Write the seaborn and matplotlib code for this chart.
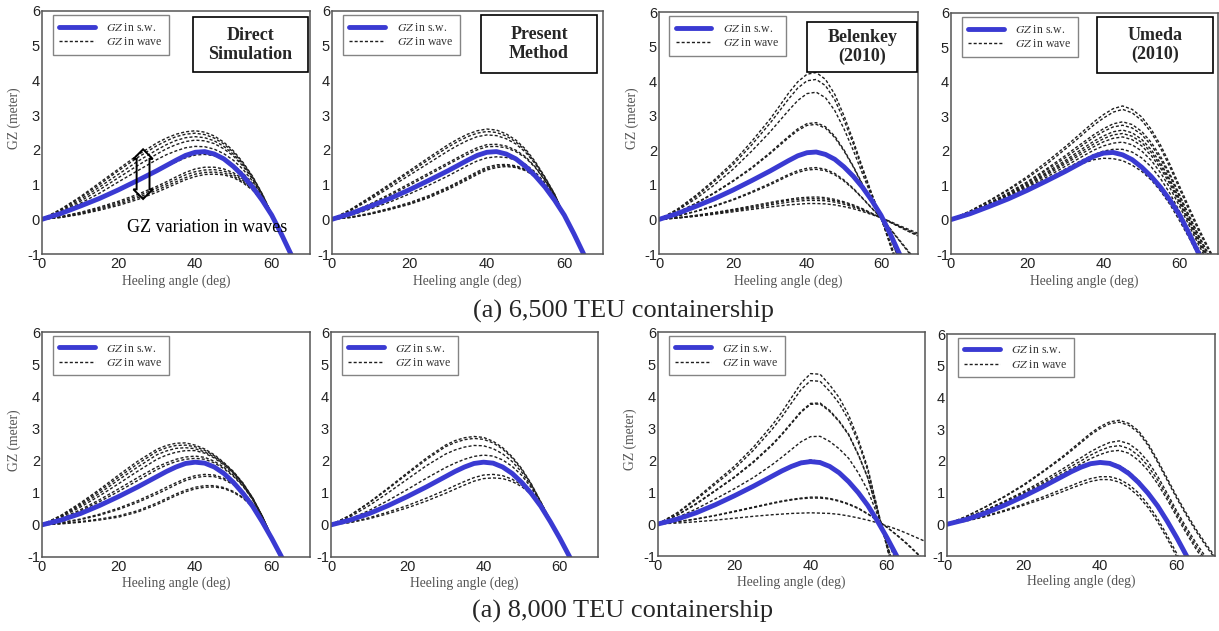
import numpy as np
import pandas as pd
import matplotlib
matplotlib.use("Agg")
import matplotlib.pyplot as plt
import seaborn as sns
from matplotlib.patches import Rectangle
from matplotlib.lines import Line2D
from matplotlib.ticker import MultipleLocator

# ---------------- data ----------------
ANGLES = [0, 5, 10, 15, 20, 25, 30, 32.5, 35, 37.5, 40, 42.5, 45, 47.5, 50,
          52.5, 55, 57.5, 60, 62.5, 65, 67.5, 70]

SW_6500 = [0.00, 0.17, 0.38, 0.60, 0.85, 1.12, 1.40, 1.55, 1.70, 1.84, 1.93, 1.95, 1.88, 1.74,
           1.52, 1.25, 0.93, 0.55, 0.12, -0.42, -1.00, -1.60, -2.20]
SW_8000 = [0.00, 0.15, 0.35, 0.60, 0.88, 1.18, 1.50, 1.66, 1.80, 1.91, 1.95, 1.92, 1.80, 1.60,
           1.32, 0.98, 0.58, 0.10, -0.42, -0.98, -1.55]

DIRECT_6500 = [
    [0, 0.30, 0.65, 1.05, 1.45, 1.85, 2.20, 2.34, 2.45, 2.52, 2.55, 2.51, 2.40, 2.22, 1.97, 1.64, 1.24, 0.74, 0.16, -0.45, -1.05],
    [0, 0.28, 0.62, 1.00, 1.40, 1.78, 2.12, 2.26, 2.38, 2.45, 2.48, 2.44, 2.34, 2.17, 1.93, 1.61, 1.22, 0.73, 0.15, -0.45, -1.05],
    [0, 0.25, 0.57, 0.93, 1.30, 1.67, 2.00, 2.15, 2.27, 2.35, 2.38, 2.35, 2.26, 2.10, 1.87, 1.57, 1.19, 0.71, 0.14, -0.45, -1.05],
    [0, 0.22, 0.52, 0.85, 1.20, 1.55, 1.88, 2.03, 2.15, 2.24, 2.28, 2.26, 2.18, 2.03, 1.82, 1.53, 1.16, 0.69, 0.13, -0.45, -1.05],
    [0, 0.20, 0.46, 0.75, 1.08, 1.40, 1.72, 1.86, 1.97, 2.06, 2.10, 2.09, 2.02, 1.89, 1.70, 1.44, 1.10, 0.66, 0.12, -0.45, -1.05],
    [0, 0.15, 0.36, 0.60, 0.85, 1.10, 1.38, 1.52, 1.65, 1.77, 1.85, 1.87, 1.83, 1.73, 1.56, 1.33, 1.03, 0.62, 0.11, -0.45, -1.05],
    [0, 0.08, 0.20, 0.35, 0.52, 0.72, 0.95, 1.08, 1.22, 1.35, 1.45, 1.50, 1.50, 1.45, 1.34, 1.16, 0.91, 0.56, 0.10, -0.45, -1.05],
    [0, 0.07, 0.18, 0.32, 0.48, 0.67, 0.90, 1.02, 1.15, 1.28, 1.37, 1.42, 1.43, 1.39, 1.29, 1.12, 0.88, 0.54, 0.10, -0.45, -1.05],
    [0, 0.06, 0.16, 0.29, 0.44, 0.62, 0.84, 0.96, 1.08, 1.20, 1.30, 1.35, 1.36, 1.33, 1.24, 1.08, 0.86, 0.53, 0.09, -0.45, -1.05],
    [0, 0.05, 0.14, 0.26, 0.40, 0.57, 0.78, 0.90, 1.02, 1.14, 1.23, 1.29, 1.30, 1.28, 1.20, 1.05, 0.84, 0.52, 0.09, -0.45, -1.05],
]
PRESENT_6500 = [
    [0, 0.30, 0.65, 1.02, 1.40, 1.78, 2.15, 2.31, 2.45, 2.55, 2.60, 2.57, 2.46, 2.28, 2.02, 1.66, 1.22, 0.73, 0.10, -0.45, -1.02],
    [0, 0.28, 0.62, 0.98, 1.35, 1.72, 2.08, 2.24, 2.38, 2.48, 2.53, 2.50, 2.40, 2.23, 1.98, 1.63, 1.20, 0.72, 0.10, -0.45, -1.02],
    [0, 0.26, 0.58, 0.92, 1.27, 1.62, 1.97, 2.13, 2.27, 2.38, 2.43, 2.41, 2.32, 2.17, 1.93, 1.60, 1.18, 0.71, 0.10, -0.45, -1.02],
    [0, 0.20, 0.45, 0.73, 1.03, 1.33, 1.63, 1.78, 1.93, 2.06, 2.15, 2.16, 2.11, 1.99, 1.80, 1.51, 1.13, 0.69, 0.10, -0.45, -1.02],
    [0, 0.18, 0.42, 0.69, 0.98, 1.28, 1.58, 1.73, 1.87, 2.00, 2.09, 2.10, 2.06, 1.95, 1.77, 1.49, 1.12, 0.68, 0.10, -0.45, -1.02],
    [0, 0.12, 0.30, 0.50, 0.73, 0.98, 1.25, 1.40, 1.55, 1.68, 1.77, 1.80, 1.78, 1.71, 1.58, 1.36, 1.05, 0.66, 0.10, -0.45, -1.02],
    [0, 0.07, 0.18, 0.32, 0.48, 0.68, 0.93, 1.07, 1.22, 1.37, 1.50, 1.57, 1.58, 1.54, 1.44, 1.26, 0.99, 0.64, 0.10, -0.45, -1.02],
    [0, 0.06, 0.16, 0.30, 0.45, 0.65, 0.90, 1.04, 1.18, 1.33, 1.46, 1.53, 1.55, 1.51, 1.42, 1.25, 0.98, 0.63, 0.10, -0.45, -1.02],
    [0, 0.05, 0.15, 0.28, 0.43, 0.62, 0.86, 1.00, 1.14, 1.29, 1.42, 1.49, 1.52, 1.49, 1.40, 1.23, 0.97, 0.63, 0.10, -0.45, -1.02],
]
BELENKEY_6500 = [
    [0, 0.30, 0.70, 1.15, 1.65, 2.25, 2.90, 3.27, 3.65, 3.98, 4.20, 4.25, 4.05, 3.62, 3.00, 2.28, 1.50, 0.75, 0.05, -0.75, -1.60],
    [0, 0.28, 0.66, 1.10, 1.58, 2.15, 2.78, 3.13, 3.48, 3.80, 4.01, 4.05, 3.87, 3.46, 2.87, 2.19, 1.44, 0.72, 0.05, -0.72, -1.55],
    [0, 0.26, 0.60, 1.00, 1.45, 1.97, 2.53, 2.84, 3.15, 3.44, 3.64, 3.68, 3.52, 3.15, 2.62, 2.00, 1.32, 0.66, 0.05, -0.66, -1.45],
    [0, 0.20, 0.47, 0.78, 1.12, 1.50, 1.93, 2.17, 2.40, 2.62, 2.77, 2.80, 2.68, 2.41, 2.01, 1.54, 1.02, 0.51, 0.05, -0.52, -1.20],
    [0, 0.20, 0.46, 0.76, 1.10, 1.47, 1.90, 2.13, 2.36, 2.57, 2.72, 2.75, 2.64, 2.37, 1.98, 1.52, 1.00, 0.50, 0.05, -0.51, -1.18],
    [0, 0.10, 0.24, 0.40, 0.58, 0.80, 1.04, 1.17, 1.30, 1.41, 1.48, 1.50, 1.45, 1.33, 1.14, 0.90, 0.62, 0.33, 0.05, -0.28, -0.62, -0.96, -1.30],
    [0, 0.10, 0.23, 0.38, 0.56, 0.77, 1.00, 1.13, 1.26, 1.36, 1.43, 1.45, 1.41, 1.29, 1.11, 0.88, 0.61, 0.32, 0.05, -0.27, -0.60, -0.93, -1.25],
    [0, 0.05, 0.12, 0.20, 0.29, 0.39, 0.49, 0.54, 0.58, 0.62, 0.64, 0.65, 0.63, 0.58, 0.51, 0.42, 0.31, 0.18, 0.05, -0.08, -0.22, -0.35, -0.48],
    [0, 0.05, 0.11, 0.19, 0.27, 0.36, 0.46, 0.51, 0.55, 0.58, 0.60, 0.60, 0.59, 0.54, 0.48, 0.39, 0.29, 0.17, 0.05, -0.08, -0.21, -0.34, -0.46],
    [0, 0.04, 0.10, 0.17, 0.25, 0.33, 0.42, 0.46, 0.50, 0.53, 0.55, 0.55, 0.54, 0.50, 0.44, 0.36, 0.27, 0.16, 0.05, -0.08, -0.20, -0.32, -0.44],
    [0, 0.04, 0.09, 0.15, 0.22, 0.29, 0.36, 0.39, 0.42, 0.44, 0.46, 0.46, 0.45, 0.42, 0.37, 0.31, 0.23, 0.14, 0.05, -0.06, -0.18, -0.29, -0.40],
]
UMEDA_6500 = [
    [0, 0.25, 0.55, 0.88, 1.25, 1.67, 2.12, 2.36, 2.60, 2.84, 3.05, 3.22, 3.30, 3.20, 2.98, 2.62, 2.15, 1.58, 0.95, 0.33, -0.27, -0.82, -1.35],
    [0, 0.24, 0.53, 0.85, 1.20, 1.60, 2.05, 2.28, 2.52, 2.75, 2.95, 3.12, 3.20, 3.10, 2.88, 2.53, 2.06, 1.50, 0.87, 0.25, -0.34, -0.88, -1.40],
    [0, 0.22, 0.48, 0.78, 1.10, 1.47, 1.86, 2.07, 2.27, 2.47, 2.64, 2.78, 2.84, 2.76, 2.56, 2.24, 1.82, 1.30, 0.70, 0.10, -0.47, -1.00, -1.52],
    [0, 0.21, 0.47, 0.76, 1.07, 1.43, 1.80, 2.00, 2.20, 2.39, 2.56, 2.69, 2.74, 2.66, 2.47, 2.16, 1.75, 1.24, 0.65, 0.06, -0.51, -1.04, -1.56],
    [0, 0.20, 0.45, 0.73, 1.03, 1.37, 1.72, 1.91, 2.10, 2.28, 2.43, 2.55, 2.60, 2.52, 2.33, 2.03, 1.63, 1.14, 0.57, -0.01, -0.58, -1.10, -1.62],
    [0, 0.20, 0.44, 0.71, 1.00, 1.33, 1.67, 1.85, 2.03, 2.20, 2.35, 2.46, 2.50, 2.42, 2.24, 1.95, 1.56, 1.08, 0.52, -0.06, -0.63, -1.15, -1.66],
    [0, 0.19, 0.43, 0.69, 0.97, 1.29, 1.62, 1.79, 1.96, 2.12, 2.26, 2.36, 2.40, 2.32, 2.14, 1.86, 1.48, 1.01, 0.46, -0.11, -0.68, -1.20, -1.70],
    [0, 0.18, 0.41, 0.66, 0.93, 1.23, 1.55, 1.71, 1.87, 2.02, 2.14, 2.22, 2.25, 2.17, 1.99, 1.72, 1.35, 0.90, 0.37, -0.19, -0.75, -1.28, -1.78],
    [0, 0.17, 0.39, 0.63, 0.89, 1.17, 1.47, 1.62, 1.76, 1.89, 1.99, 2.04, 2.04, 1.96, 1.79, 1.53, 1.18, 0.74, 0.22, -0.33, -0.88, -1.40, -1.90],
    [0, 0.17, 0.38, 0.61, 0.86, 1.12, 1.40, 1.53, 1.65, 1.74, 1.78, 1.77, 1.71, 1.58, 1.40, 1.15, 0.82, 0.42, -0.05, -0.55, -1.08, -1.60, -2.10],
]

DIRECT_8000 = [
    [0, 0.30, 0.68, 1.10, 1.55, 1.98, 2.35, 2.47, 2.54, 2.55, 2.48, 2.36, 2.18, 1.94, 1.66, 1.30, 0.85, 0.28, -0.38, -0.98, -1.55],
    [0, 0.28, 0.64, 1.05, 1.48, 1.90, 2.28, 2.40, 2.47, 2.48, 2.43, 2.32, 2.15, 1.92, 1.64, 1.29, 0.84, 0.28, -0.38, -0.98, -1.55],
    [0, 0.26, 0.60, 0.98, 1.40, 1.80, 2.18, 2.30, 2.38, 2.40, 2.37, 2.27, 2.11, 1.89, 1.62, 1.27, 0.83, 0.27, -0.38, -0.98, -1.55],
    [0, 0.24, 0.55, 0.90, 1.28, 1.67, 2.04, 2.17, 2.26, 2.31, 2.31, 2.23, 2.08, 1.86, 1.60, 1.26, 0.82, 0.27, -0.38, -0.98, -1.55],
    [0, 0.20, 0.47, 0.78, 1.12, 1.47, 1.80, 1.93, 2.04, 2.11, 2.14, 2.10, 1.98, 1.79, 1.54, 1.22, 0.80, 0.26, -0.38, -0.98, -1.55],
    [0, 0.18, 0.43, 0.72, 1.04, 1.38, 1.72, 1.86, 1.97, 2.04, 2.07, 2.04, 1.93, 1.75, 1.51, 1.20, 0.79, 0.26, -0.38, -0.98, -1.55],
    [0, 0.07, 0.18, 0.33, 0.52, 0.75, 1.02, 1.17, 1.31, 1.44, 1.53, 1.57, 1.55, 1.45, 1.28, 1.03, 0.68, 0.22, -0.38, -0.98, -1.55],
    [0, 0.06, 0.16, 0.30, 0.48, 0.70, 0.96, 1.10, 1.25, 1.38, 1.47, 1.51, 1.50, 1.41, 1.25, 1.01, 0.67, 0.22, -0.38, -0.98, -1.55],
    [0, 0.04, 0.10, 0.18, 0.28, 0.44, 0.68, 0.82, 0.96, 1.08, 1.17, 1.22, 1.22, 1.16, 1.04, 0.85, 0.57, 0.18, -0.38, -0.98, -1.55],
    [0, 0.03, 0.08, 0.15, 0.24, 0.40, 0.63, 0.77, 0.91, 1.03, 1.12, 1.17, 1.18, 1.13, 1.01, 0.83, 0.56, 0.17, -0.38, -0.98, -1.55],
]
PRESENT_8000 = [
    [0, 0.30, 0.70, 1.15, 1.62, 2.08, 2.48, 2.62, 2.71, 2.75, 2.72, 2.60, 2.40, 2.12, 1.75, 1.28, 0.72, 0.15, -0.42, -0.98, -1.55],
    [0, 0.29, 0.68, 1.12, 1.58, 2.03, 2.43, 2.56, 2.65, 2.69, 2.66, 2.55, 2.36, 2.08, 1.72, 1.26, 0.71, 0.14, -0.42, -0.98, -1.55],
    [0, 0.25, 0.60, 1.00, 1.42, 1.84, 2.20, 2.33, 2.42, 2.47, 2.46, 2.37, 2.21, 1.97, 1.64, 1.21, 0.70, 0.13, -0.42, -0.98, -1.55],
    [0, 0.18, 0.45, 0.76, 1.10, 1.45, 1.78, 1.92, 2.04, 2.13, 2.17, 2.14, 2.02, 1.82, 1.54, 1.16, 0.68, 0.12, -0.42, -0.98, -1.55],
    [0, 0.08, 0.22, 0.40, 0.60, 0.83, 1.08, 1.22, 1.35, 1.47, 1.55, 1.57, 1.53, 1.42, 1.24, 0.98, 0.63, 0.11, -0.42, -0.98, -1.55],
    [0, 0.07, 0.19, 0.35, 0.53, 0.74, 0.98, 1.11, 1.24, 1.36, 1.44, 1.46, 1.44, 1.35, 1.19, 0.95, 0.62, 0.11, -0.42, -0.98, -1.55],
]
BELENKEY_8000 = [
    [0, 0.35, 0.80, 1.30, 1.80, 2.40, 3.10, 3.50, 3.95, 4.40, 4.70, 4.68, 4.35, 3.95, 3.40, 2.65, 1.75, 0.50, -0.72, -1.90, -3.00],
    [0, 0.33, 0.76, 1.24, 1.72, 2.30, 2.97, 3.35, 3.78, 4.20, 4.48, 4.46, 4.15, 3.77, 3.25, 2.55, 1.67, 0.48, -0.70, -1.85, -2.90],
    [0, 0.28, 0.64, 1.05, 1.47, 1.95, 2.50, 2.82, 3.17, 3.52, 3.77, 3.78, 3.55, 3.22, 2.80, 2.18, 1.45, 0.42, -0.62, -1.60, -2.50],
    [0, 0.27, 0.62, 1.03, 1.45, 1.92, 2.47, 2.79, 3.14, 3.49, 3.74, 3.75, 3.52, 3.20, 2.78, 2.16, 1.44, 0.41, -0.62, -1.60, -2.50],
    [0, 0.20, 0.47, 0.78, 1.10, 1.45, 1.86, 2.09, 2.33, 2.57, 2.73, 2.74, 2.58, 2.35, 2.05, 1.60, 1.05, 0.30, -0.45, -1.20, -1.90],
    [0, 0.15, 0.36, 0.61, 0.90, 1.20, 1.52, 1.68, 1.83, 1.95, 2.00, 1.96, 1.82, 1.62, 1.35, 1.01, 0.62, 0.12, -0.38, -0.95, -1.50],
    [0, 0.07, 0.16, 0.27, 0.40, 0.53, 0.66, 0.72, 0.77, 0.81, 0.84, 0.84, 0.80, 0.73, 0.63, 0.50, 0.32, 0.12, -0.10, -0.34, -0.60, -0.88, -1.18],
    [0, 0.07, 0.15, 0.26, 0.38, 0.51, 0.64, 0.70, 0.75, 0.79, 0.81, 0.81, 0.78, 0.71, 0.61, 0.48, 0.31, 0.11, -0.10, -0.33, -0.58, -0.86, -1.15],
    [0, 0.03, 0.07, 0.12, 0.18, 0.24, 0.29, 0.31, 0.33, 0.34, 0.35, 0.34, 0.33, 0.30, 0.25, 0.19, 0.12, 0.04, -0.06, -0.16, -0.28, -0.41, -0.54],
]
UMEDA_8000 = [
    [0, 0.25, 0.55, 0.88, 1.25, 1.67, 2.12, 2.37, 2.62, 2.87, 3.08, 3.23, 3.28, 3.18, 2.95, 2.55, 2.02, 1.45, 0.88, 0.35, -0.15, -0.60, -1.02],
    [0, 0.24, 0.54, 0.86, 1.22, 1.64, 2.08, 2.32, 2.57, 2.82, 3.02, 3.17, 3.22, 3.12, 2.89, 2.49, 1.96, 1.39, 0.82, 0.29, -0.21, -0.66, -1.08],
    [0, 0.20, 0.45, 0.73, 1.03, 1.37, 1.73, 1.92, 2.10, 2.29, 2.45, 2.58, 2.63, 2.54, 2.32, 1.98, 1.52, 0.98, 0.42, -0.10, -0.58, -1.02, -1.42],
    [0, 0.19, 0.43, 0.70, 0.99, 1.31, 1.65, 1.83, 2.00, 2.18, 2.33, 2.44, 2.48, 2.39, 2.17, 1.84, 1.40, 0.88, 0.33, -0.19, -0.68, -1.12, -1.52],
    [0, 0.18, 0.41, 0.67, 0.95, 1.26, 1.58, 1.75, 1.91, 2.07, 2.20, 2.30, 2.33, 2.24, 2.02, 1.70, 1.28, 0.78, 0.24, -0.28, -0.77, -1.22, -1.62],
    [0, 0.15, 0.36, 0.61, 0.90, 1.20, 1.52, 1.68, 1.82, 1.93, 1.98, 1.96, 1.85, 1.66, 1.38, 1.03, 0.62, 0.13, -0.40, -0.95, -1.50],
    [0, 0.11, 0.26, 0.44, 0.64, 0.86, 1.10, 1.22, 1.34, 1.44, 1.50, 1.50, 1.42, 1.25, 0.99, 0.63, 0.18, -0.35, -0.92, -1.52, -2.12],
    [0, 0.10, 0.24, 0.41, 0.60, 0.80, 1.02, 1.14, 1.25, 1.35, 1.41, 1.41, 1.33, 1.15, 0.89, 0.53, 0.08, -0.45, -1.02, -1.62, -2.22],
]

METHOD_TITLES = ["Direct\nSimulation", "Present\nMethod", "Belenkey\n(2010)", "Umeda\n(2010)"]
CAPTIONS = ["(a) 6,500 TEU containership", "(a) 8,000 TEU containership"]
LEGEND_LABELS = ["$GZ$ in s.w.", "$GZ$ in wave"]
X_LABEL = "Heeling angle (deg)"
Y_LABEL = "GZ (meter)"
ANNOT_TEXT = "GZ variation in waves"

# ---------------- style ----------------
BLUE = "#3a3ad2"
WAVE = "#1e1e1e"
DASH = (0, (2.2, 1.5))
W, H = 1219, 631

sns.set_theme(style="white")
plt.rcParams["font.family"] = ["Liberation Serif", "DejaVu Serif"]
plt.rcParams["mathtext.fontset"] = "stix"
plt.rcParams["axes.unicode_minus"] = False

fig = plt.figure(figsize=(W / 100, H / 100), dpi=100)
fig.patch.set_facecolor("white")

# pixel boxes (x0, x1, y0, y1) measured from top-left
TOP_BOXES = [(42, 310, 11, 254), (332, 603, 11, 254), (659, 918, 12, 254), (951, 1218, 13, 254)]
BOT_BOXES = [(42, 310, 332, 557), (331, 598, 332, 557), (658, 925, 332, 556), (947, 1215, 334, 556)]
TITLE_BOXES = [(0.563, 0.993, 0.749, 0.975), (0.55, 0.978, 0.745, 0.984),
               (0.571, 0.998, 0.752, 0.959), (0.547, 0.981, 0.751, 0.983)]


def wave_frame(curves):
    rows = []
    for cid, vals in enumerate(curves):
        for a, v in zip(ANGLES, vals):
            rows.append((cid, a, v))
    return pd.DataFrame(rows, columns=["curve", "angle", "gz"])


def make_axes(box):
    x0, x1, y0, y1 = box
    return fig.add_axes([x0 / W, 1 - y1 / H, (x1 - x0) / W, (y1 - y0) / H])


def draw_panel(ax, sw, waves, ylabel, ylabel_y):
    sns.lineplot(data=wave_frame(waves), x="angle", y="gz", units="curve", estimator=None,
                 color=WAVE, linewidth=1.0, linestyle=DASH, sort=False, ax=ax, legend=False)
    sns.lineplot(x=ANGLES[:len(sw)], y=sw, color=BLUE, linewidth=3.5, ax=ax, legend=False)
    ax.set_xlim(0, 70)
    ax.set_ylim(-1, 6)
    ax.set_xticks([0, 20, 40, 60])
    ax.xaxis.set_minor_locator(MultipleLocator(5))
    ax.yaxis.set_major_locator(MultipleLocator(1))
    ax.yaxis.set_minor_locator(MultipleLocator(0.2))
    ax.tick_params(which="both", direction="in", top=False, right=False, colors="#555555",
                   labelcolor="#222222", labelfontfamily="Liberation Sans")
    ax.tick_params(which="major", length=5, width=0.9, labelsize=10.5)
    ax.tick_params(which="minor", length=2.5, width=0.7)
    ax.tick_params(axis="x", which="major", pad=2)
    ax.tick_params(axis="y", which="major", pad=1.5)
    for s in ax.spines.values():
        s.set_color("#555555")
        s.set_linewidth(1.1)
    ax.set_xlabel(X_LABEL, fontsize=9.8, color="#555555")
    ax.xaxis.set_label_coords(0.5, -0.085)
    if ylabel:
        ax.set_ylabel(Y_LABEL, fontsize=9.8, color="#555555")
        ax.yaxis.set_label_coords(-0.078, ylabel_y)
    else:
        ax.set_ylabel("")
    handles = [Line2D([], [], color=BLUE, linewidth=3.5),
               Line2D([], [], color=WAVE, linewidth=1.0, linestyle=DASH)]
    leg = ax.legend(handles, LEGEND_LABELS, loc="upper left", bbox_to_anchor=(0.04, 0.982),
                    borderaxespad=0, frameon=True, fancybox=False, fontsize=8.5,
                    handlelength=3.0, handletextpad=1.0, borderpad=0.55, labelspacing=0.2)
    leg.get_frame().set_edgecolor("#666666")
    leg.get_frame().set_linewidth(1.0)
    for t in leg.get_texts():
        t.set_color("#333333")


top_data = [DIRECT_6500, PRESENT_6500, BELENKEY_6500, UMEDA_6500]
bot_data = [DIRECT_8000, PRESENT_8000, BELENKEY_8000, UMEDA_8000]

for i in range(4):
    ax = make_axes(TOP_BOXES[i])
    draw_panel(ax, SW_6500, top_data[i], ylabel=(i in (0, 2)), ylabel_y=0.56)
    bx0, bx1, by0, by1 = TITLE_BOXES[i]
    ax.add_patch(Rectangle((bx0, by0), bx1 - bx0, by1 - by0, transform=ax.transAxes,
                           facecolor="white", edgecolor="black", linewidth=1.2, zorder=8,
                           clip_on=False))
    ax.text((bx0 + bx1) / 2, (by0 + by1) / 2, METHOD_TITLES[i], transform=ax.transAxes,
            ha="center", va="center", fontsize=13, fontweight="bold", linespacing=1.15,
            zorder=9)
    if i == 0:
        ax.text(22.3, -0.25, ANNOT_TEXT, fontsize=13, ha="left", va="center", color="black",
                zorder=7)
        ax.text(26.4, 1.29, "MMMM", rotation=90, fontsize=7, color="none", ha="center",
                va="center", zorder=7,
                bbox=dict(boxstyle="darrow,pad=0.2", fc="none", ec="black", lw=1.4))

for i in range(4):
    ax = make_axes(BOT_BOXES[i])
    draw_panel(ax, SW_8000, bot_data[i], ylabel=(i in (0, 2)), ylabel_y=0.52)

fig.text(623 / W, 1 - 311 / H, CAPTIONS[0], ha="center", va="center", fontsize=19)
fig.text(623 / W, 1 - 611 / H, CAPTIONS[1], ha="center", va="center", fontsize=19)

fig.savefig("out.png", dpi=100, facecolor="white")
